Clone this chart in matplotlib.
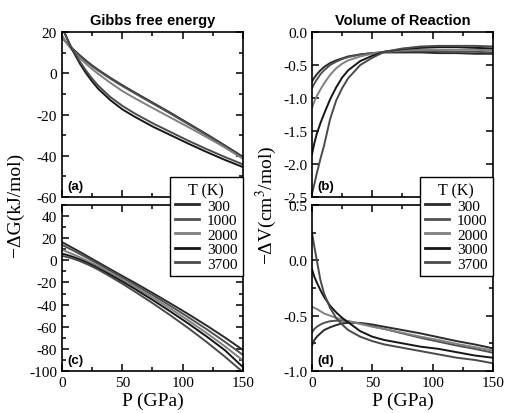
import matplotlib
matplotlib.use("Agg")
from matplotlib import pyplot as plt
from matplotlib.ticker import MultipleLocator, FormatStrFormatter

plt.rcParams['font.family'] = ['Liberation Serif', 'DejaVu Serif']
plt.rcParams['mathtext.fontset'] = 'stix'
plt.rcParams['axes.unicode_minus'] = False

# pressure grid (GPa)
pressure = [0, 2, 4, 7, 10, 15, 20, 25, 30, 40, 50, 60, 75, 90, 105, 120, 135, 150]

temps = ['300', '1000', '2000', '3000', '3700']
colors = ['#2a2a2a', '#505050', '#808080', '#161616', '#4a4a4a']

# (a) -dG kJ/mol
dg_a_300 = [17.5, 16, 14.7, 12.9, 11.2, 8.6, 6.1, 3.8, 1.7, -2.2, -5.8, -9.2, -14.2, -19.2, -24.4, -29.6, -35, -40.5]
dg_a_1000 = [18, 16.2, 14.7, 12.7, 10.9, 8.2, 5.7, 3.4, 1.3, -2.6, -6.2, -9.6, -14.6, -19.6, -24.8, -30, -35.4, -41]
dg_a_2000 = [18.5, 16.3, 14.5, 12.2, 10.2, 7.2, 4.5, 2, -0.3, -4.6, -8.6, -12, -16.8, -21.5, -26.2, -31, -36, -41.5]
dg_a_3000 = [23, 20, 17.2, 13.2, 9.8, 4.5, 0, -4, -7.5, -13, -17.5, -21, -25.8, -30, -34.2, -38.2, -42, -45.5]
dg_a_3700 = [22, 19.5, 17, 13.5, 10.3, 5.5, 1.2, -2.6, -6, -11.5, -15.8, -19.4, -24.2, -28.5, -32.8, -36.8, -40.6, -44.2]

# (b) -dV cm3/mol
dv_b_300 = [-0.75, -0.69, -0.64, -0.58, -0.53, -0.47, -0.43, -0.4, -0.37, -0.34, -0.32, -0.31, -0.31, -0.31, -0.32, -0.32, -0.33, -0.33]
dv_b_1000 = [-0.85, -0.78, -0.72, -0.64, -0.58, -0.5, -0.45, -0.41, -0.38, -0.34, -0.32, -0.3, -0.29, -0.29, -0.29, -0.3, -0.3, -0.31]
dv_b_2000 = [-1.15, -1.05, -0.97, -0.87, -0.78, -0.65, -0.55, -0.48, -0.43, -0.37, -0.33, -0.3, -0.28, -0.27, -0.27, -0.27, -0.27, -0.28]
dv_b_3000 = [-1.85, -1.68, -1.54, -1.38, -1.24, -1.02, -0.84, -0.69, -0.58, -0.44, -0.36, -0.3, -0.26, -0.24, -0.23, -0.23, -0.24, -0.25]
dv_b_3700 = [-2.45, -2.3, -2.14, -1.92, -1.72, -1.32, -1.04, -0.85, -0.7, -0.5, -0.39, -0.3, -0.25, -0.22, -0.21, -0.21, -0.21, -0.22]

# (c) -dG kJ/mol
dg_c_300 = [16.5, 15.3, 14.1, 12.3, 10.5, 7.5, 4.4, 1.3, -1.8, -8, -14.1, -20.1, -29.4, -39, -48.8, -59, -69.7, -81]
dg_c_1000 = [14, 12.9, 11.8, 10.1, 8.5, 5.6, 2.7, -0.3, -3.3, -9.4, -15.6, -21.8, -31.3, -41.3, -51.6, -62.3, -73.6, -85.5]
dg_c_2000 = [9.5, 8.7, 7.8, 6.5, 5.1, 2.7, 0.1, -2.6, -5.4, -11.3, -17.4, -23.6, -33.4, -43.7, -54.5, -65.8, -77.7, -90.5]
dg_c_3000 = [6, 5.5, 4.9, 3.9, 2.8, 0.7, -1.7, -4.3, -7.1, -13, -19.2, -25.6, -35.7, -46.3, -57.3, -68.9, -81.2, -96.5]
dg_c_3700 = [4, 3.6, 3.1, 2.2, 1.2, -0.8, -3.1, -5.6, -8.4, -14.6, -21.1, -28, -38.6, -49.8, -61.5, -73.9, -87, -101]

# (d) -dV cm3/mol
dv_d_300 = [-0.77, -0.72, -0.69, -0.66, -0.63, -0.605, -0.585, -0.57, -0.565, -0.565, -0.58, -0.6, -0.63, -0.66, -0.695, -0.73, -0.76, -0.795]
dv_d_1000 = [-0.65, -0.62, -0.6, -0.58, -0.565, -0.55, -0.545, -0.545, -0.55, -0.57, -0.595, -0.62, -0.66, -0.7, -0.735, -0.77, -0.8, -0.835]
dv_d_2000 = [-0.42, -0.43, -0.44, -0.46, -0.48, -0.5, -0.52, -0.535, -0.55, -0.575, -0.6, -0.62, -0.655, -0.69, -0.72, -0.755, -0.785, -0.815]
dv_d_3000 = [-0.08, -0.15, -0.2, -0.27, -0.33, -0.41, -0.47, -0.52, -0.56, -0.64, -0.69, -0.72, -0.75, -0.78, -0.8, -0.83, -0.86, -0.88]
dv_d_3700 = [0.25, 0.12, 0.0, -0.18, -0.3, -0.43, -0.52, -0.58, -0.63, -0.69, -0.73, -0.76, -0.79, -0.82, -0.85, -0.88, -0.9, -0.93]

panel_a = [dg_a_300, dg_a_1000, dg_a_2000, dg_a_3000, dg_a_3700]
panel_b = [dv_b_300, dv_b_1000, dv_b_2000, dv_b_3000, dv_b_3700]
panel_c = [dg_c_300, dg_c_1000, dg_c_2000, dg_c_3000, dg_c_3700]
panel_d = [dv_d_300, dv_d_1000, dv_d_2000, dv_d_3000, dv_d_3700]

fig = plt.figure(figsize=(5.06, 4.14), dpi=100)
ax_a = fig.add_axes([0.1225, 0.5217, 0.3577, 0.3986])
ax_b = fig.add_axes([0.6166, 0.5217, 0.3577, 0.3986])
ax_c = fig.add_axes([0.1225, 0.1014, 0.3577, 0.401])
ax_d = fig.add_axes([0.6166, 0.1014, 0.3577, 0.401])

setup = [
    (ax_a, panel_a, (-60, 20), 20, 10, '%d', '(a)'),
    (ax_b, panel_b, (-2.5, 0.0), 0.5, None, '%.1f', '(b)'),
    (ax_c, panel_c, (-100, 50), 20, 10, '%d', '(c)'),
    (ax_d, panel_d, (-1.0, 0.5), 0.5, 0.25, '%.1f', '(d)'),
]

for ax, series, ylim, major, minor, fmt, tag in setup:
    for vals, c, t in zip(series, colors, temps):
        ax.plot(pressure, vals, color=c, lw=1.4, label=t)
    ax.set_xlim(0, 150)
    ax.set_ylim(*ylim)
    ax.xaxis.set_major_locator(MultipleLocator(50))
    ax.xaxis.set_minor_locator(MultipleLocator(25))
    ax.yaxis.set_major_locator(MultipleLocator(major))
    if minor:
        ax.yaxis.set_minor_locator(MultipleLocator(minor))
    ax.yaxis.set_major_formatter(FormatStrFormatter(fmt))
    ax.tick_params(which='both', direction='in', top=True, right=True, labelsize=11, width=1.1)
    ax.tick_params(which='major', length=5)
    ax.tick_params(which='minor', length=3)
    for s in ax.spines.values():
        s.set_linewidth(1.2)
    ax.text(0.03, 0.03, tag, transform=ax.transAxes, fontsize=9.5, fontweight='bold',
            family=['Liberation Sans', 'DejaVu Sans'], va='bottom', ha='left')

for ax in (ax_a, ax_b):
    ax.tick_params(labelbottom=False)
for ax in (ax_c, ax_d):
    ax.set_xlabel('P (GPa)', fontsize=14, labelpad=2)

ax_a.set_title('Gibbs free energy', fontsize=10.5, fontweight='bold',
               family=['Liberation Sans', 'DejaVu Sans'], pad=6)
ax_b.set_title('Volume of Reaction', fontsize=10.5, fontweight='bold',
               family=['Liberation Sans', 'DejaVu Sans'], pad=6)

fig.text(0.03, 0.505, '−ΔG(kJ/mol)', rotation=90, fontsize=14, ha='center', va='center')
fig.text(0.527, 0.505, '−ΔV(cm$^3$/mol)', rotation=90, fontsize=14, ha='center', va='center')

for ax, x_right in ((ax_c, 0.480), (ax_d, 0.974)):
    handles, labels = ax.get_legend_handles_labels()
    leg = fig.legend(handles, labels, title='T (K)', loc='upper right',
                     bbox_to_anchor=(x_right, 0.570), fontsize=11, title_fontsize=11.5,
                     frameon=True, fancybox=False, edgecolor='black', framealpha=1,
                     handlelength=1.6, handletextpad=0.5, labelspacing=0.05,
                     borderpad=0.35, borderaxespad=0)
    leg.get_frame().set_linewidth(1.0)
    for h in leg.legend_handles:
        h.set_linewidth(2.0)

fig.savefig('out.png', dpi=100)
